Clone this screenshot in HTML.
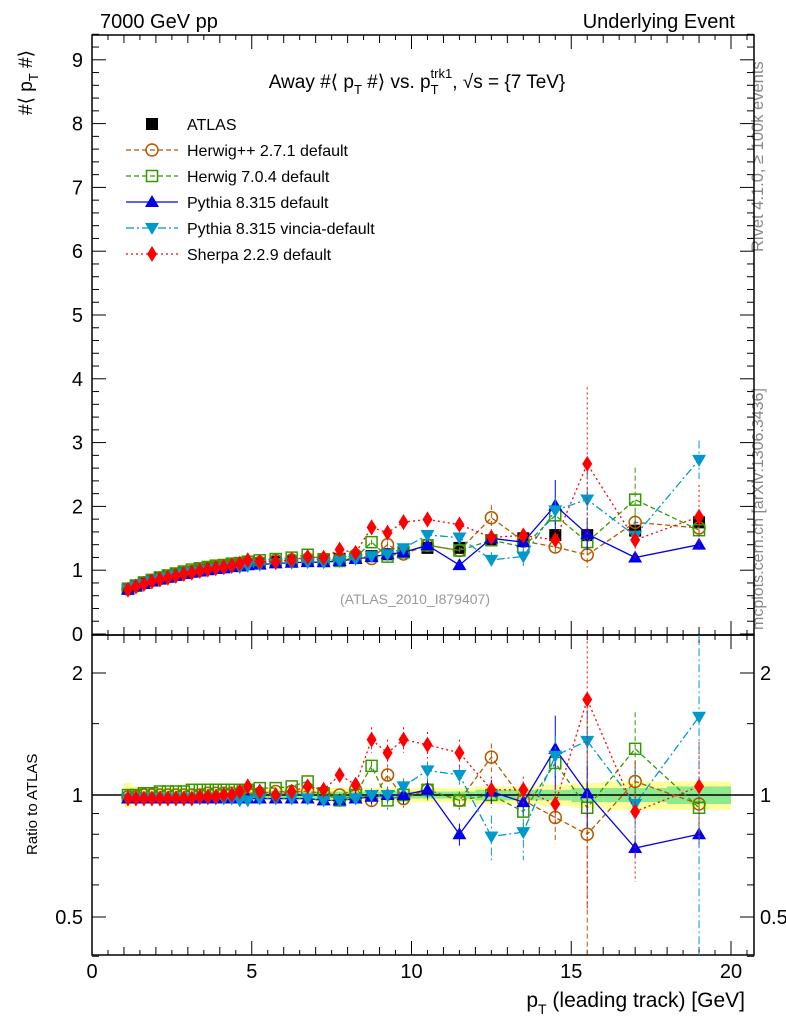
<!DOCTYPE html>
<html><head><meta charset="utf-8"><style>
html,body{margin:0;padding:0;background:#fff;}
svg{display:block;font-family:"Liberation Sans",Arial,sans-serif;}
</style></head><body>
<svg id="c" width="786" height="1024" xmlns="http://www.w3.org/2000/svg">
<text x="100" y="28" font-size="20">7000 GeV pp</text>
<text x="735" y="28" font-size="20" text-anchor="end">Underlying Event</text>
<text x="417" y="88" font-size="19" text-anchor="middle">Away #⟨ p<tspan font-size="13" dy="6">T</tspan><tspan dy="-6"> #⟩ vs. p</tspan><tspan font-size="13" dy="6">T</tspan><tspan font-size="13" dx="-8" dy="-16">trk1</tspan><tspan dy="10">, √s = {7 TeV}</tspan></text>
<text transform="translate(32,115) rotate(-90)" font-size="19">#⟨ p<tspan font-size="13" dy="6">T</tspan><tspan dy="-6"> #⟩</tspan></text>
<text transform="translate(37,855) rotate(-90)" font-size="15">Ratio to ATLAS</text>
<text x="745" y="1007" font-size="21" text-anchor="end">p<tspan font-size="14" dy="7">T</tspan><tspan dy="-7"> (leading track) [GeV]</tspan></text>
<text transform="translate(763,252) rotate(-90)" font-size="16.5" fill="#888">Rivet 4.1.0, ≥ 100k events</text>
<text transform="translate(763,630) rotate(-90)" font-size="16" fill="#888">mcplots.cern.ch [arXiv:1306.3436]</text>
<text x="415" y="604" font-size="14" fill="#999" text-anchor="middle">(ATLAS_2010_I879407)</text>
<defs><clipPath id="clipMain"><rect x="92" y="35" width="662" height="600"/></clipPath><clipPath id="clipRatio"><rect x="92" y="635" width="662" height="320"/></clipPath></defs>
<g id="bands"></g><g id="ax"></g><g id="series"></g><g id="leg"></g>
</svg>
<script>
const xs=[1.125,1.375,1.625,1.875,2.125,2.375,2.625,2.875,3.125,3.375,3.625,3.875,4.125,4.375,4.625,4.875,5.25,5.75,6.25,6.75,7.25,7.75,8.25,8.75,9.25,9.75,10.5,11.5,12.5,13.5,14.5,15.5,17,19];
const atlas=[0.71,0.76,0.8,0.84,0.87,0.9,0.93,0.96,0.98,1.0,1.02,1.04,1.05,1.07,1.08,1.1,1.11,1.13,1.14,1.15,1.16,1.18,1.2,1.22,1.25,1.28,1.35,1.35,1.47,1.5,1.55,1.55,1.62,1.75];
const ratioHerwigpp=[0.99,0.99,1.0,1.0,1.0,1.0,1.0,1.0,1.0,1.0,1.01,1.01,1.01,1.01,1.01,1.01,1.01,1.02,1.02,1.02,1.01,1.0,1.03,0.97,1.12,0.98,1.03,0.97,1.24,0.97,0.88,0.8,1.08,0.95];
const ratioHerwig7=[1.0,1.0,1.01,1.01,1.02,1.02,1.02,1.02,1.03,1.03,1.03,1.03,1.03,1.03,1.03,1.03,1.04,1.04,1.05,1.08,1.01,0.97,1.0,1.18,0.97,1.0,1.03,0.97,1.0,0.91,1.2,0.93,1.3,0.93];
const ratioPythia=[0.98,0.98,0.98,0.98,0.98,0.98,0.98,0.98,0.98,0.98,0.98,0.98,0.98,0.98,0.98,0.98,0.98,0.98,0.98,0.98,0.97,0.97,0.98,0.99,1.0,1.0,1.03,0.8,1.02,0.96,1.3,1.01,0.74,0.8];
const ratioVincia=[0.98,0.98,0.98,0.98,0.98,0.98,0.98,0.98,0.98,0.98,0.98,0.98,0.98,0.98,0.97,0.97,0.98,0.98,0.98,0.98,0.97,0.97,0.98,1.0,1.0,1.05,1.15,1.12,0.79,0.81,1.25,1.36,0.95,1.56];
const ratioSherpa=[0.98,0.98,0.98,0.98,0.98,0.98,0.98,0.98,0.98,0.99,0.99,0.99,1.0,1.0,1.02,1.05,1.02,1.0,1.02,1.05,1.03,1.12,1.06,1.37,1.27,1.37,1.33,1.27,1.03,1.03,0.95,1.72,0.91,1.05];
const errHerwigpp=[0,0,0,0,0,0,0,0,0,0,0,0,0,0,0,0,0,0,0,0,0,0,0.03,0.04,0.05,0.05,0.06,0.05,0.1,0.08,0.12,0.9,0.12,0.1];
const errHerwig7=[0,0,0,0,0,0,0,0,0,0,0,0,0,0,0,0,0,0,0,0,0,0,0.03,0.04,0.05,0.05,0.06,0.05,0.07,0.08,0.1,0.15,0.3,0.1];
const errPythia=[0,0,0,0,0,0,0,0,0,0,0,0,0,0,0,0,0,0,0,0,0,0,0.03,0.04,0.04,0.05,0.05,0.05,0.07,0.07,0.27,0.18,0.04,0.05];
const errVincia=[0,0,0,0,0,0,0,0,0,0,0,0,0,0,0,0,0,0,0,0,0,0,0.03,0.04,0.05,0.05,0.06,0.06,0.1,0.12,0.15,0.4,0.2,1.2];
const errSherpa=[0,0,0,0,0,0,0,0,0,0,0,0,0,0,0,0,0,0,0,0,0,0.03,0.04,0.1,0.1,0.1,0.1,0.1,0.08,0.08,0.1,1.2,0.3,0.3];
const mainErrHerwigpp=[0,0,0,0,0,0,0,0,0,0,0,0,0,0,0,0,0,0,0,0,0,0,0.03,0.04,0.05,0.05,0.06,0.05,0.2,0.1,0.12,0.2,0.15,0.1];
const mainErrHerwig7=[0,0,0,0,0,0,0,0,0,0,0,0,0,0,0,0,0,0,0,0,0,0,0.03,0.04,0.05,0.05,0.06,0.05,0.07,0.08,0.15,0.2,0.5,0.1];
const mainErrPythia=[0,0,0,0,0,0,0,0,0,0,0,0,0,0,0,0,0,0,0,0,0,0,0.03,0.04,0.04,0.05,0.05,0.05,0.07,0.07,0.4,0.25,0.05,0.08];
const mainErrVincia=[0,0,0,0,0,0,0,0,0,0,0,0,0,0,0,0,0,0,0,0,0,0,0.03,0.04,0.05,0.05,0.06,0.06,0.12,0.15,0.2,0.45,0.25,0.3];
const mainErrSherpa=[0,0,0,0,0,0,0,0,0,0,0,0,0,0,0,0,0,0,0,0,0,0.05,0.05,0.12,0.12,0.12,0.12,0.12,0.1,0.1,0.12,1.2,0.3,0.5];
const bandOuter=[0.07,0.05,0.04,0.04,0.04,0.04,0.04,0.04,0.04,0.04,0.04,0.04,0.04,0.04,0.04,0.04,0.04,0.04,0.04,0.04,0.04,0.04,0.04,0.04,0.04,0.04,0.04,0.04,0.05,0.05,0.06,0.07,0.08,0.08];
const bandInner=[0.03,0.03,0.02,0.02,0.02,0.02,0.02,0.02,0.02,0.02,0.02,0.02,0.02,0.02,0.02,0.02,0.02,0.02,0.02,0.02,0.02,0.02,0.02,0.02,0.02,0.02,0.02,0.02,0.03,0.03,0.03,0.04,0.04,0.05];
const binEdges=[1,1.25,1.5,1.75,2,2.25,2.5,2.75,3,3.25,3.5,3.75,4,4.25,4.5,4.75,5,5.5,6,6.5,7,7.5,8,8.5,9,9.5,10,11,12,13,14,15,16,18,20];
const mainTicks=[0,1,2,3,4,5,6,7,8,9];
const ratioTicks=[0.5,1,2];
const xTicks=[0,5,10,15,20];

const NS='http://www.w3.org/2000/svg';
const X=v=>92+v*31.95;
const Y=v=>634-v*63.8;
const R=v=>795-122*Math.log2(v);
function el(p,t,a){const e=document.createElementNS(NS,t);for(const k in a)e.setAttribute(k,a[k]);p.appendChild(e);return e;}
const ax=document.getElementById('ax'),bands=document.getElementById('bands'),ser=document.getElementById('series'),leg=document.getElementById('leg');

for(let i=0;i<xs.length;i++){
  const x0=X(binEdges[i]),x1=X(binEdges[i+1]);
  let b=el(bands,'rect',{x:x0,y:R(1+bandOuter[i]),width:x1-x0,height:R(1-bandOuter[i])-R(1+bandOuter[i]),fill:'#ffff99'});
  
  
  let g=el(bands,'rect',{x:x0,y:R(1+bandInner[i]),width:x1-x0,height:R(1-bandInner[i])-R(1+bandInner[i]),fill:'#8ee88e'});
  
  
}
let one=el(ax,'line',{x1:92,x2:754,y1:R(1),y2:R(1),stroke:'#000','stroke-width':1.5});



for(const f of [[35,635,'main-frame'],[635,955,'ratio-frame']]){
  let r=el(ax,'rect',{x:92,y:f[0],width:662,height:f[1]-f[0],fill:'none',stroke:'#000','stroke-width':1.5});
  
  
}
for(let v=0;v<=20.5;v+=0.5){
  const major=Math.abs(v%5)<1e-6, mid=Math.abs(v%1)<1e-6;
  const L=major?14:(mid?8:5);
  for(const yb of [635,955]) el(ax,'line',{x1:X(v),x2:X(v),y1:yb,y2:yb-L,stroke:'#000'});
  for(const yt of [35,635]) el(ax,'line',{x1:X(v),x2:X(v),y1:yt,y2:yt+L,stroke:'#000'});
}
for(const v of xTicks){
  let t=el(ax,'text',{x:X(v),y:978,'font-size':20,'text-anchor':'middle'});t.textContent=v;
  
  
}
for(let v=0;v<=9.4;v+=0.2){
  const major=Math.abs(v-Math.round(v))<1e-6;const L=major?14:7;
  el(ax,'line',{x1:92,x2:92+L,y1:Y(v),y2:Y(v),stroke:'#000'});
  el(ax,'line',{x1:754,x2:754-L,y1:Y(v),y2:Y(v),stroke:'#000'});
}
for(const v of mainTicks){
  let t=el(ax,'text',{x:83,y:Y(v)+7,'font-size':20,'text-anchor':'end'});t.textContent=v;
  
  
}
for(const v of [0.4,0.5,0.6,0.7,0.8,0.9,1,1.5,2]){
  const major=ratioTicks.includes(v);const L=major?14:7;
  el(ax,'line',{x1:92,x2:92+L,y1:R(v),y2:R(v),stroke:'#000'});
  el(ax,'line',{x1:754,x2:754-L,y1:R(v),y2:R(v),stroke:'#000'});
}
for(const v of ratioTicks){
  let t=el(ax,'text',{x:83,y:R(v)+7,'font-size':20,'text-anchor':'end'});t.textContent=v;
  
  
  let t2=el(ax,'text',{x:760,y:R(v)+7,'font-size':20});t2.textContent=v;
  
  
}

function marker(g,type,x,y,col){
  if(type==='sq') el(g,'rect',{x:x-6,y:y-6,width:12,height:12,fill:col});
  if(type==='osq') el(g,'rect',{x:x-5.5,y:y-5.5,width:11,height:11,fill:'none',stroke:col,'stroke-width':1.5});
  if(type==='oc') el(g,'circle',{cx:x,cy:y,r:6,fill:'none',stroke:col,'stroke-width':1.5});
  if(type==='tu') el(g,'path',{d:`M${x} ${y-7}L${x+7} ${y+5}L${x-7} ${y+5}Z`,fill:col});
  if(type==='td') el(g,'path',{d:`M${x} ${y+7}L${x+7} ${y-5}L${x-7} ${y-5}Z`,fill:col});
  if(type==='dm') el(g,'path',{d:`M${x} ${y-8}L${x+5} ${y}L${x} ${y+8}L${x-5} ${y}Z`,fill:col});
}
const series=[
 ['herwigpp',ratioHerwigpp,errHerwigpp,mainErrHerwigpp,'#b35900','oc','5,3','Herwig++ 2.7.1 default'],
 ['herwig7',ratioHerwig7,errHerwig7,mainErrHerwig7,'#339900','osq','5,3','Herwig 7.0.4 default'],
 ['pythia',ratioPythia,errPythia,mainErrPythia,'#0000ee','tu','','Pythia 8.315 default'],
 ['vincia',ratioVincia,errVincia,mainErrVincia,'#0099cc','td','8,3,2,3','Pythia 8.315 vincia-default'],
 ['sherpa',ratioSherpa,errSherpa,mainErrSherpa,'#ff0000','dm','2,3','Sherpa 2.2.9 default']];
let ga=el(ser,'g',{'clip-path':'url(#clipMain)'});


for(let i=0;i<xs.length;i++){marker(ga,'sq',X(xs[i]),Y(atlas[i]),'#000');}
for(const s of series){
  const g=el(ser,'g',{'clip-path':'url(#clipMain)'});
  
  
  const gr=el(ser,'g',{'clip-path':'url(#clipRatio)'});
  
  
  const col=s[4],dash=s[6];
  let pm='',pr='';
  for(let i=0;i<xs.length;i++){
    const x=X(xs[i]),vm=atlas[i]*s[1][i],er=s[2][i],em=s[3][i];
    pm+=(i?'L':'M')+x+' '+Y(vm);pr+=(i?'L':'M')+x+' '+R(s[1][i]);
    if(em>0) el(g,'line',{x1:x,x2:x,y1:Y(vm+em),y2:Y(Math.max(vm-em,0)),stroke:col,'stroke-dasharray':dash});
    if(er>0) el(gr,'line',{x1:x,x2:x,y1:R(s[1][i]+er),y2:R(Math.max(s[1][i]-er,0.3)),stroke:col,'stroke-dasharray':dash});
  }
  el(g,'path',{d:pm,fill:'none',stroke:col,'stroke-width':1.3,'stroke-dasharray':dash});
  el(gr,'path',{d:pr,fill:'none',stroke:col,'stroke-width':1.3,'stroke-dasharray':dash});
  for(let i=0;i<xs.length;i++){
    marker(g,s[5],X(xs[i]),Y(atlas[i]*s[1][i]),col);
    marker(gr,s[5],X(xs[i]),R(s[1][i]),col);
  }
}
const items=[['atlas','sq','#000','','ATLAS']].concat(series.map(s=>[s[0],s[5],s[4],s[6],s[7]]));
items.forEach((it,k)=>{
  const y=124+k*26;
  const g=el(leg,'g',{});
  
  
  if(k>0) el(g,'line',{x1:126,x2:178,y1:y,y2:y,stroke:it[2],'stroke-width':1.3,'stroke-dasharray':it[3]});
  marker(g,it[1],152,y,it[2]);
  const t=el(g,'text',{x:187,y:y+6,'font-size':16});t.textContent=it[4];
});
</script>
</body></html>
